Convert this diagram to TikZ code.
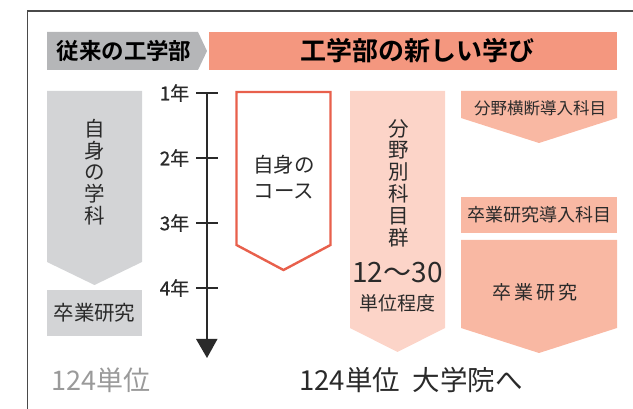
\documentclass[tikz,border=0pt]{standalone}
\usepackage{fontspec}
\setmainfont{Noto Sans CJK JP}[BoldFont={Noto Sans CJK JP Bold}]
\newfontfamily\yearfont{Noto Sans CJK JP}[FakeBold=0.6]
\definecolor{framegrey}{HTML}{4A4A4A}
\definecolor{hdrgrey}{HTML}{B5B6B8}
\definecolor{hdrsalmon}{HTML}{F4977F}
\definecolor{lightgrey}{HTML}{D3D4D6}
\definecolor{pinkcol}{HTML}{FCD4C8}
\definecolor{salmoncol}{HTML}{F9B8A3}
\definecolor{redline}{HTML}{E8604C}
\definecolor{txt}{HTML}{2A2A2A}
\definecolor{greytxt}{HTML}{9A9A9A}
\tikzset{
  lbl/.style={text=txt, inner sep=0pt, align=center},
  fs/.style={font=\fontsize{#1}{#1}\selectfont},
  vtext/.style={text=txt, inner sep=0pt, align=center, font=\fontsize{20.5}{21.8}\selectfont},
  yearlbl/.style={text=txt, inner sep=0pt, anchor=east, font=\yearfont\fontsize{19}{19}\selectfont},
  tick/.style={line width=1.2pt, draw=txt},
}
\begin{document}
\begin{tikzpicture}[x=1pt,y=-1pt]
\useasboundingbox (0,0) rectangle (633,409);
% frame
\draw[framegrey, line width=1.2pt] (27.5,409) -- (27.5,11) -- (633,11);
% headers
\fill[hdrgrey] (47,32) -- (198,32) -- (207,51) -- (198,70) -- (47,70) -- cycle;
\node[lbl, text=black, font=\bfseries\fontsize{22.5}{22.5}\selectfont] (h1) at (124,51) {従来の工学部};
\fill[hdrsalmon] (209,32) rectangle (617,70);
\node[lbl, text=black, font=\bfseries\fontsize{26}{26}\selectfont] (h2) at (417,51) {工学部の新しい学び};
% left grey arrow
\fill[lightgrey] (47,91) -- (142,91) -- (142,262) -- (94.5,285) -- (47,262) -- cycle;
\node[vtext] (dept) at (95,172) {自\\身\\の\\学\\科};
\fill[lightgrey] (47,290) rectangle (142,336);
\node[lbl, fs=20.5] (sotsuL) at (94.5,313) {卒業研究};
\node[lbl, text=greytxt, fs=27] (credL) at (101,380) {124単位};
% timeline
\coordinate (tTop) at (207,93);
\coordinate (tEnd) at (207,342);
\draw[line width=1.4pt, txt] (tTop) -- (tEnd);
\fill[txt] (196,339) -- (217.5,339) -- (207,358) -- cycle;
\foreach \yy/\lab [count=\i] in {93/1年,158/2年,223/3年,288/4年}{
  \draw[tick] (196,\yy) -- (217.5,\yy);
  \node[yearlbl] (yr\i) at (189.5,\yy) {\lab};
}
% red outlined course
\draw[redline, line width=2.4pt, line join=miter] (236.5,92) -- (330.5,92) -- (330.5,245) -- (283.5,270) -- (236.5,245) -- cycle;
\node[lbl, font=\fontsize{20.5}{25.5}\selectfont] (course) at (284,177) {自身の\\コース};
% pink column
\fill[pinkcol] (350,91) -- (445,91) -- (445,328) -- (397.5,352) -- (350,328) -- cycle;
\node[vtext] (field) at (399,183) {分\\野\\別\\科\\目\\群};
\node[lbl, fs=28] (range) at (397.5,273) {12〜30};
\node[lbl, fs=19] (unit) at (397.5,303) {単位程度};
% right column
\fill[salmoncol] (461,91) -- (617,91) -- (617,118) -- (539,143) -- (461,118) -- cycle;
\node[lbl, fs=16.5] (cross) at (540,108) {分野横断導入科目};
\fill[salmoncol] (461,197) rectangle (617,233);
\node[lbl, fs=18] (intro) at (539,215) {卒業研究導入科目};
\fill[salmoncol] (461,240) -- (617,240) -- (617,328) -- (539,353) -- (461,328) -- cycle;
\node[lbl, font=\fontsize{19}{19}\selectfont] (sotsuR) at (535,292) {卒\,業\,研\,究};
% bottom
\node[lbl, fs=27.5] (credR) at (411,380) {124単位\hspace{0.45em}大学院へ};
\end{tikzpicture}
\end{document}
